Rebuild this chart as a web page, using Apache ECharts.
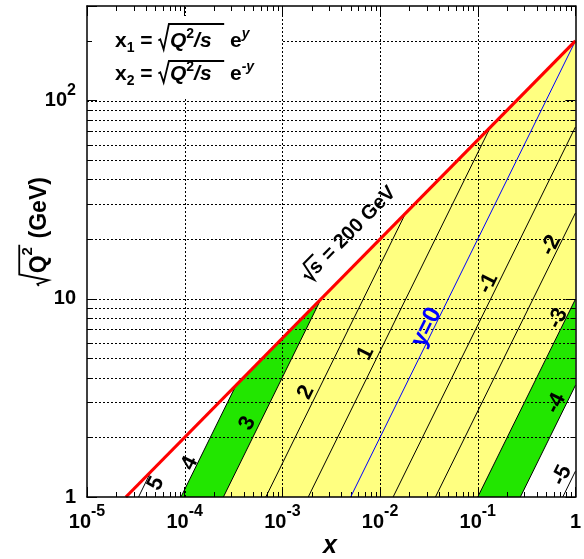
<!DOCTYPE html>
<html>
<head>
<meta charset="utf-8">
<script src="https://cdn.jsdelivr.net/npm/echarts@6.0.0/dist/echarts.min.js"></script>
<style>
html,body{margin:0;padding:0;background:#fff;}
#chart{width:584px;height:559px;}
</style>
</head>
<body>
<div id="chart"></div>
<script>
// ---------------- data ----------------
const xTickLabels = ['10^-5', '10^-4', '10^-3', '10^-2', '10^-1', '1'];
const yTickLabels = ['1', '10', '10^2'];

// lines of constant rapidity y (start at bottom / right edge, end at kinematic limit / right edge)
const rapidityNames = ['5', '4', '3', '2', '1', 'y=0', '-1', '-2', '-3', '-4', '-5'];
const lineStartX = [3.37e-5, 9.16e-5, 2.49e-4, 6.77e-4, 1.84e-3, 5.0e-3, 1.36e-2, 3.69e-2, 0.100, 0.273, 0.742];
const lineStartQ = [1, 1, 1, 1, 1, 1, 1, 1, 1, 1, 1];
const lineEndX = [4.54e-5, 3.35e-4, 2.48e-3, 1.83e-2, 0.135, 1, 1, 1, 1, 1, 1];
const lineEndQ = [1.35, 3.66, 9.96, 27.1, 73.6, 200, 73.6, 27.1, 9.96, 3.66, 1.35];

// kinematic limit sqrt(s) = 200 GeV
const limitX = [2.5e-5, 1];
const limitQ = [1, 200];

// filled regions
const yellowX = [2.49e-4, 2.48e-3, 1, 1, 0.100];
const yellowQ = [1, 9.96, 200, 9.96, 1];
const greenLeftX = [9.16e-5, 3.35e-4, 2.48e-3, 2.49e-4];
const greenLeftQ = [1, 3.66, 9.96, 1];
const greenRightX = [0.100, 1, 1, 0.273];
const greenRightQ = [1, 9.96, 3.66, 1];

// label anchor points for the rapidity lines
const labelX = [5.08e-5, 1.127e-4, 4.39e-4, 1.75e-3, 7.15e-3, 0.0299, 0.128, 0.560, 0.660, 0.630, 0.725];
const labelQ = [1.17, 1.48, 2.35, 3.37, 5.31, 7.17, 11.96, 18.6, 7.96, 2.97, 1.286];
const energyLabelX = [4.8e-3];
const energyLabelQ = [21.3];

// grid / ticks
const yGridValues = [2, 3, 4, 5, 6, 7, 8, 9, 10, 20, 30, 40, 50, 60, 70, 80, 90, 100, 200];
const xGridValues = [1e-4, 1e-3, 1e-2, 1e-1];
const minorSteps = [2, 3, 4, 5, 6, 7, 8, 9];
const xDecades = [1e-5, 1e-4, 1e-3, 1e-2, 1e-1];
const yMinorValues = [2, 3, 4, 5, 6, 7, 8, 9, 20, 30, 40, 50, 60, 70, 80, 90, 200];

const X_MIN = 1e-5, X_MAX = 1, Q_MIN = 1, Q_MAX = 300;

// ---------------- helpers ----------------
const FONT = "'Liberation Sans', Arial, Helvetica, sans-serif";
const YELLOW = '#ffff80', GREEN = '#22e600', RED = '#ff0000', BLUE = '#0000ff';
const mctx = document.createElement('canvas').getContext('2d');
function fontStr(tk) { return (tk.it ? 'italic ' : '') + (tk.bd === 0 ? '' : 'bold ') + tk.fs + 'px ' + FONT; }
function measure(tk) { mctx.font = fontStr(tk); return mctx.measureText(tk.t).width; }

function layout(tokens, x0, base, color, z) {
  const out = []; let x = x0;
  for (const tk of tokens) {
    if (tk.sqrt) {
      const fs = tk.fs;
      const ix = x + fs * tk.gap;
      const inner = layout(tk.sqrt, ix, base, color, z);
      const top = base - fs * tk.top;
      const xe = ix + inner.width + fs * tk.pad;
      out.push({type: 'polyline', z: z,
        shape: {points: [[x, base - fs * 0.40], [x + fs * 0.09, base - fs * 0.46], [x + fs * 0.25, base + fs * 0.02], [x + fs * (tk.gap - 0.05), top], [xe, top]]},
        style: {fill: 'none', stroke: color, lineWidth: tk.lw}});
      out.push(...inner.children);
      x = xe;
    } else {
      const w = measure(tk);
      out.push({type: 'text', z: z, x: x, y: base + (tk.dy || 0) - tk.fs * 0.35,
        style: {text: tk.t, font: fontStr(tk), fill: color, align: 'left', verticalAlign: 'middle', textAlign: 'left', textVerticalAlign: 'middle'}});
      x += w;
    }
  }
  return {children: out, width: x - x0};
}

const RICH = {
  b: {fontSize: 20, fontWeight: 'bold', fontFamily: FONT, color: '#000', lineHeight: 36, verticalAlign: 'middle'},
  s: {fontSize: 16, fontWeight: 'bold', fontFamily: FONT, color: '#000', lineHeight: 19, verticalAlign: 'top'}
};
function richLabel(str) {
  const i = str.indexOf('^');
  return i < 0 ? '{b|' + str + '}' : '{b|' + str.slice(0, i) + '}{s|' + str.slice(i + 1) + '}';
}
function decadeIndex(v, first) {
  const e = Math.log10(v);
  if (Math.abs(e - Math.round(e)) > 1e-6) return -1;
  return Math.round(e) - first;
}

// ---------------- series ----------------
const regions = [
  {xs: yellowX, qs: yellowQ, color: YELLOW},
  {xs: greenLeftX, qs: greenLeftQ, color: GREEN},
  {xs: greenRightX, qs: greenRightQ, color: GREEN}
];

const gridItems = [];
yGridValues.forEach(v => gridItems.push({k: 'h', v: v}));
xGridValues.forEach(v => gridItems.push({k: 'v', v: v}));
xDecades.forEach(d => minorSteps.forEach(m => gridItems.push({k: 'xt', v: d * m})));
yMinorValues.forEach(v => gridItems.push({k: 'yt', v: v}));

const DOT = [2, 2];
function px(v) { return Math.round(v) + 0.5; }

const series = [];
series.push({
  type: 'custom', z: 1, silent: true,
  data: regions.map(r => [r.xs[0], r.qs[0]]),
  renderItem: function (params, api) {
    const r = regions[params.dataIndex];
    const pts = r.xs.map((x, i) => api.coord([x, r.qs[i]]));
    return {type: 'polygon', shape: {points: pts}, style: {fill: r.color, stroke: 'none'}};
  }
});
series.push({
  type: 'custom', z: 2, silent: true,
  data: gridItems.map(g => (g.k === 'h' || g.k === 'yt') ? [X_MIN, g.v] : [g.v, Q_MIN]),
  renderItem: function (params, api) {
    const g = gridItems[params.dataIndex];
    if (g.k === 'h') {
      const a = api.coord([X_MIN, g.v]), b = api.coord([X_MAX, g.v]);
      const y = px(a[1]);
      return {type: 'line', shape: {x1: a[0], y1: y, x2: b[0], y2: y}, style: {stroke: '#000', lineWidth: 1, lineDash: DOT}};
    }
    if (g.k === 'v') {
      const a = api.coord([g.v, Q_MIN]), b = api.coord([g.v, Q_MAX]);
      const x = px(a[0]);
      return {type: 'line', shape: {x1: x, y1: a[1], x2: x, y2: b[1]}, style: {stroke: '#000', lineWidth: 1, lineDash: DOT}};
    }
    if (g.k === 'xt') {
      const a = api.coord([g.v, Q_MIN]), b = api.coord([g.v, Q_MAX]);
      const x = px(a[0]);
      return {type: 'group', children: [
        {type: 'line', shape: {x1: x, y1: a[1], x2: x, y2: a[1] - 5}, style: {stroke: '#000', lineWidth: 1}},
        {type: 'line', shape: {x1: x, y1: b[1], x2: x, y2: b[1] + 5}, style: {stroke: '#000', lineWidth: 1}}
      ]};
    }
    const a = api.coord([X_MIN, g.v]), b = api.coord([X_MAX, g.v]);
    const y = px(a[1]);
    return {type: 'group', children: [
      {type: 'line', shape: {x1: a[0], y1: y, x2: a[0] + 5, y2: y}, style: {stroke: '#000', lineWidth: 1}},
      {type: 'line', shape: {x1: b[0], y1: y, x2: b[0] - 5, y2: y}, style: {stroke: '#000', lineWidth: 1}}
    ]};
  }
});

rapidityNames.forEach((name, i) => {
  series.push({
    type: 'line', z: 3, silent: true, showSymbol: false, symbol: 'none', animation: false,
    data: [[lineStartX[i], lineStartQ[i]], [lineEndX[i], lineEndQ[i]]],
    lineStyle: {color: name === 'y=0' ? BLUE : '#000', width: 1}
  });
});
series.push({
  type: 'line', z: 4, silent: true, showSymbol: false, symbol: 'none',
  data: limitX.map((x, i) => [x, limitQ[i]]),
  lineStyle: {color: RED, width: 3.2}
});

// labels along rapidity lines
series.push({
  type: 'custom', z: 5, silent: true,
  data: labelX.map((x, i) => [x, labelQ[i]]),
  renderItem: function (params, api) {
    const i = params.dataIndex;
    const p = api.coord([labelX[i], labelQ[i]]);
    const a = api.coord([lineStartX[i], lineStartQ[i]]), b = api.coord([lineEndX[i], lineEndQ[i]]);
    const ang = Math.atan2(a[1] - b[1], b[0] - a[0]);
    const name = rapidityNames[i];
    const fs = name === 'y=0' ? 24 : 22;
    return {type: 'group', x: p[0], y: p[1], rotation: ang, children: [
      {type: 'text', x: 0, y: 0, style: {text: name, font: 'bold ' + fs + 'px ' + FONT, fill: name === 'y=0' ? BLUE : '#000',
        align: 'center', verticalAlign: 'middle', textAlign: 'center', textVerticalAlign: 'middle'}}
    ]};
  }
});
// sqrt(s) = 200 GeV label
series.push({
  type: 'custom', z: 6, silent: true,
  data: energyLabelX.map((x, i) => [x, energyLabelQ[i]]),
  renderItem: function (params, api) {
    const p = api.coord([energyLabelX[0], energyLabelQ[0]]);
    const a = api.coord([limitX[0], limitQ[0]]), b = api.coord([limitX[1], limitQ[1]]);
    const ang = Math.atan2(a[1] - b[1], b[0] - a[0]);
    const fs = 20;
    const toks = [{sqrt: [{t: 's', fs: fs}], fs: fs, gap: 0.5, top: 0.92, pad: 0.08, lw: 2}, {t: ' = 200 GeV', fs: fs}];
    const lay = layout(toks, 0, 0, '#000', 0);
    const w = lay.width;
    return {type: 'group', x: p[0], y: p[1], rotation: ang, children: [
      {type: 'group', x: -w / 2, y: fs * 0.36, children: lay.children}
    ]};
  }
});

// ---------------- graphic (legend formula and axis titles) ----------------
const graphics = [];
graphics.push({type: 'rect', z: 100, shape: {x: 92, y: 16, width: 190, height: 82}, style: {fill: '#fff'}});
const L1 = [{t: 'x', fs: 21}, {t: '1', fs: 14, dy: 4}, {t: ' = ', fs: 21},
  {sqrt: [{t: 'Q', fs: 21, it: 1}, {t: '2', fs: 14, dy: -10}, {t: '/s', fs: 21, it: 1}], fs: 21, gap: 0.55, top: 1.19, pad: 0.6, lw: 1.8},
  {t: ' e', fs: 21}, {t: 'y', fs: 14, dy: -10, it: 1}];
const L2 = [{t: 'x', fs: 21}, {t: '2', fs: 14, dy: 4}, {t: ' = ', fs: 21},
  {sqrt: [{t: 'Q', fs: 21, it: 1}, {t: '2', fs: 14, dy: -10}, {t: '/s', fs: 21, it: 1}], fs: 21, gap: 0.55, top: 1.0, pad: 0.6, lw: 1.8},
  {t: ' e', fs: 21}, {t: '-y', fs: 14, dy: -10, it: 1}];
graphics.push(...layout(L1, 115, 49, '#000', 101).children);
graphics.push(...layout(L2, 115, 82, '#000', 101).children);

// y-axis title (rotated)
const YT = [{sqrt: [{t: 'Q', fs: 23}, {t: '2', fs: 15, dy: -15}], fs: 23, gap: 0.55, top: 1.25, pad: 0.1, lw: 1.8}, {t: ' (GeV)', fs: 23}];
graphics.push({type: 'group', x: 48, y: 286, rotation: Math.PI / 2, z: 101, children: layout(YT, 0, 0, '#000', 101).children});
// x-axis title
graphics.push({type: 'text', z: 101, x: 330, y: 546, style: {text: 'x', font: 'italic bold 25px ' + FONT, fill: '#000', align: 'center', verticalAlign: 'middle', textAlign: 'center', textVerticalAlign: 'middle'}});

// ---------------- axes ----------------
function xAxisCfg(pos) {
  return {
    type: 'log', logBase: 10, min: X_MIN, max: X_MAX, position: pos, z: 10,
    axisLine: {show: true, onZero: false, lineStyle: {color: '#000', width: 1.5}},
    axisTick: {show: true, inside: true, length: 10, lineStyle: {color: '#000', width: 1}},
    axisLabel: {show: pos === 'bottom', margin: 7, showMinLabel: true, showMaxLabel: true, rich: RICH,
      formatter: function (v) { const i = decadeIndex(v, -5); return i < 0 || i >= xTickLabels.length ? '' : richLabel(xTickLabels[i]); }},
    splitLine: {show: false}, minorTick: {show: false}, minorSplitLine: {show: false}
  };
}
function yAxisCfg(pos) {
  return {
    type: 'log', logBase: 10, min: Q_MIN, max: Q_MAX, position: pos, z: 10,
    axisLine: {show: true, onZero: false, lineStyle: {color: '#000', width: 1.5}},
    axisTick: {show: true, inside: true, length: 10, lineStyle: {color: '#000', width: 1}},
    axisLabel: {show: pos === 'left', margin: 11, showMinLabel: true, showMaxLabel: true, rich: RICH,
      formatter: function (v) { const i = decadeIndex(v, 0); return i < 0 || i >= yTickLabels.length ? '' : richLabel(yTickLabels[i]); }},
    splitLine: {show: false}, minorTick: {show: false}, minorSplitLine: {show: false}
  };
}

const chart = echarts.init(document.getElementById('chart'), null, {renderer: 'canvas'});
chart.setOption({
  animation: false,
  backgroundColor: '#fff',
  grid: {left: 87, right: 6, top: 6, bottom: 62, containLabel: false},
  xAxis: [xAxisCfg('bottom'), xAxisCfg('top')],
  yAxis: [yAxisCfg('left'), yAxisCfg('right')],
  graphic: {elements: graphics},
  series: series
});
</script>
</body>
</html>
